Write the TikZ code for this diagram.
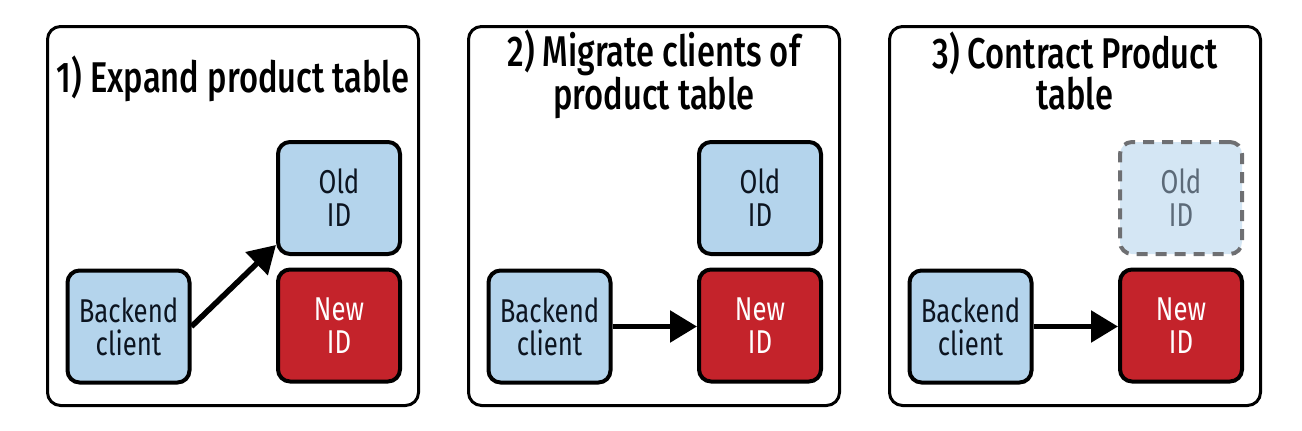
\documentclass[tikz,border=0pt]{standalone}
\usepackage{fontspec}
\setmainfont{Fira Sans}[FakeStretch=0.78]
\newfontfamily\titlefont{Fira Sans Medium}[FakeStretch=0.76]
\usetikzlibrary{arrows.meta}
\definecolor{boxblue}{RGB}{180,212,236}
\definecolor{paleblue}{RGB}{212,230,244}
\definecolor{newred}{RGB}{196,35,43}
\definecolor{inkdark}{RGB}{12,20,32}
\definecolor{dashgray}{RGB}{110,111,114}
\definecolor{fadedtext}{RGB}{92,106,120}
\tikzset{
  frame/.style={draw=black, line width=3pt, rounded corners=13pt},
  titletext/.style={anchor=base, inner sep=0pt, align=center, font=\titlefont\fontsize{43}{37}\selectfont, text=black},
  idbox/.style={draw=black, line width=4pt, rounded corners=12pt, minimum width=122pt, minimum height=112pt,
    align=center, inner sep=0pt, font=\fontsize{33}{33}\selectfont},
  bluebox/.style={idbox, fill=boxblue, text=inkdark},
  redbox/.style={idbox, fill=newred, text=white},
  gonebox/.style={idbox, draw=dashgray, fill=paleblue, text=fadedtext, dash pattern=on 11pt off 8pt},
  flow/.style={draw=black, line width=5.5pt, -{Triangle[length=27pt,width=31pt]}},
}
\begin{document}
\begin{tikzpicture}[x=1pt,y=-1pt]
\useasboundingbox (0,0) rectangle (1302,431);
% panel 1
\draw[frame] (47.5,26.5) rectangle (418.5,405.5);
\node[titletext] (t1) at (233,92) {1) Expand product table};
\node[bluebox] (b1) at (128.5,326.5) {Backend\\client};
\node[bluebox] (o1) at (339,198) {Old\\ID};
\node[redbox] (n1) at (339,325.5) {New\\ID};
\draw[flow] (b1.east) -- ([yshift=11pt]o1.south west);
% panel 2
\draw[frame] (468.5,26.5) rectangle (839.5,405.5);
\node[titletext] (t2) at (654,109) {2) Migrate clients of\\product table};
\node[bluebox] (b2) at (549.5,326.5) {Backend\\client};
\node[bluebox] (o2) at (760,198) {Old\\ID};
\node[redbox] (n2) at (760,325.5) {New\\ID};
\draw[flow] (b2.east) -- (b2.east -| n2.west);
% panel 3
\draw[frame] (889.5,26.5) rectangle (1260.5,405.5);
\node[titletext] (t3) at (1075,109) {3) Contract Product\\table};
\node[bluebox] (b3) at (970.5,326.5) {Backend\\client};
\node[gonebox] (o3) at (1181,198) {Old\\ID};
\node[redbox] (n3) at (1181,325.5) {New\\ID};
\draw[flow] (b3.east) -- (b3.east -| n3.west);
\end{tikzpicture}
\end{document}
